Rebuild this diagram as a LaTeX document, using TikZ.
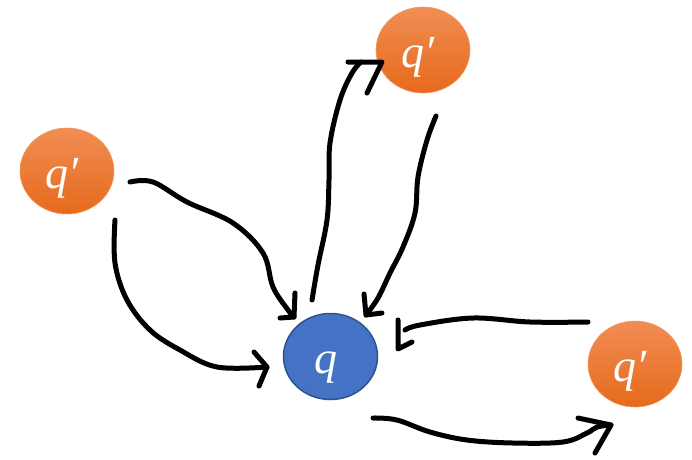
\documentclass[tikz,border=0pt]{standalone}
\usepackage{fontspec}
\setmainfont{Liberation Serif}
\definecolor{orTop}{HTML}{F18D55}
\definecolor{orBot}{HTML}{E66A1B}
\definecolor{orEdge}{HTML}{F39A60}
\definecolor{qblue}{HTML}{4472C4}
\definecolor{qedge}{HTML}{2F528F}
\newcommand{\lbl}[1]{\raisebox{-17pt}[0pt][0pt]{#1}}
\tikzset{
  qprime/.style={ellipse, minimum width=94pt, minimum height=86pt, inner sep=0pt,
    top color=orTop, bottom color=orBot, draw=orEdge, line width=0.6pt,
    text=white, font=\fontsize{46}{46}\selectfont\itshape},
  qnode/.style={ellipse, minimum width=94pt, minimum height=86pt, inner sep=0pt,
    fill=qblue, draw=qedge, line width=1.5pt,
    text=white, font=\fontsize{46}{46}\selectfont\itshape},
  hand/.style={line width=5pt, black, line cap=round, line join=round}
}
\usetikzlibrary{shapes.geometric}
\begin{document}
\begin{tikzpicture}[x=1pt,y=-1pt]
\useasboundingbox (0,0) rectangle (692,459);
\node[qprime] (L) at (67,171) {\lbl{q′\kern10pt}};
\node[qprime] (T) at (423,50) {\lbl{q′\kern10pt}};
\node[qprime] (R) at (635,364) {\lbl{q′\kern10pt}};
\node[qnode] (Q) at (330.5,356.5) {\lbl{q\kern10pt}};

% left-top arrow
\coordinate (a1s) at (130,182);
\coordinate (a1t) at (294,317);
\draw[hand] plot[smooth, tension=0.6] coordinates {(a1s) (153,182) (187,202) (233,223) (263,253) (273,287) (288,310) (a1t)};
\draw[hand] (295,293) -- (a1t) -- (280,318);

% left-bottom arrow
\coordinate (a2s) at (115,220);
\coordinate (a2t) at (267,367);
\draw[hand] plot[smooth, tension=0.6] coordinates {(a2s) (115,263) (127,300) (150,330) (180,350) (217,367) (a2t)};
\draw[hand] (254,352) -- (a2t) -- (259,386);

% q up to top q'
\coordinate (a3s) at (312,300);
\coordinate (a3t) at (382,62);
\draw[hand] plot[smooth, tension=0.6] coordinates {(a3s) (318,265) (327,220) (329,180) (330,143) (340,100) (352,73) (361,62)};
\draw[hand] (348,62) -- (a3t) -- (367,93);

% top q' down to q
\coordinate (a4s) at (436,116);
\coordinate (a4t) at (366,315);
\draw[hand] plot[smooth, tension=0.6] coordinates {(a4s) (427,140) (418,177) (415,213) (403,247) (390,273) (378,298) (a4t)};
\draw[hand] (364,294) -- (a4t) -- (382,313);

% right q' to q
\coordinate (a5s) at (588,322);
\coordinate (a5t) at (398,349);
\draw[hand] plot[smooth, tension=0.6] coordinates {(a5s) (530,322) (473,318) (420,325) (405,330)};
\draw[hand] (398,320) -- (a5t) -- (412,342);

% q to right q'
\coordinate (a6s) at (373,418);
\coordinate (a6t) at (611,425);
\draw[hand] plot[smooth, tension=0.6] coordinates {(a6s) (397,420) (430,432) (467,440) (513,443) (563,442) (587,433) (597,427) (a6t)};
\draw[hand] (578,418) -- (a6t) -- (595,453);
\end{tikzpicture}
\end{document}
